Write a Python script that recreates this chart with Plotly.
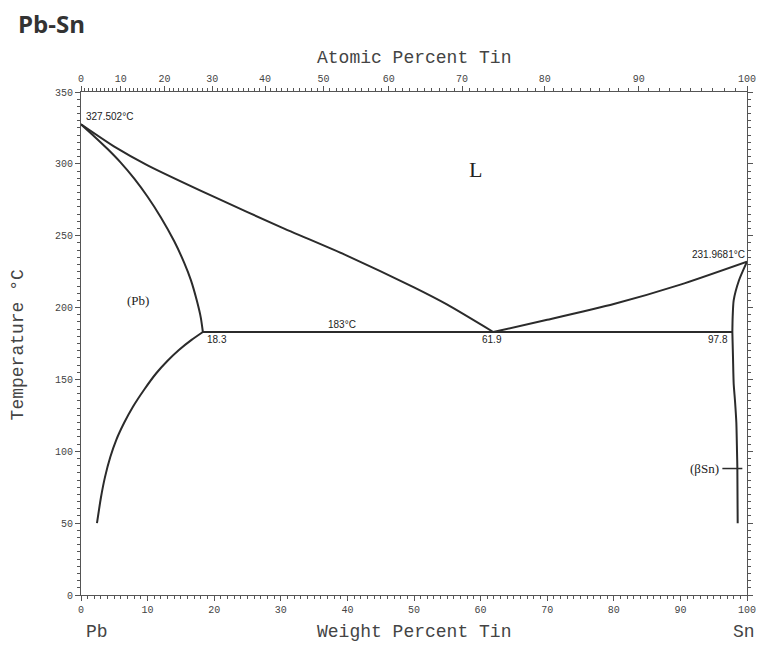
import plotly.graph_objects as go

# ---------------- data ----------------
# Pb-rich side liquidus (wt% Sn, °C)
liq_pb_x = [0, 5, 10, 20, 30, 40, 50, 55, 61.9]
liq_pb_y = [327.502, 312, 299, 277, 256, 236, 214, 202, 183]
# Pb-rich solidus
sol_pb_x = [0, 2, 4, 6, 8, 10, 12, 14, 15.5, 16.5, 17.4, 18, 18.3]
sol_pb_y = [327.502, 319.1, 310.3, 300.7, 289.7, 277.1, 262.7, 246.1, 231.1, 219.1, 204.7, 192.7, 183]
# Pb-rich solvus
solv_pb_x = [18.3, 16.6, 14.7, 13, 11.3, 9.5, 7.8, 6.5, 5.3, 4.4, 3.6, 3.0, 2.4]
solv_pb_y = [183, 177.5, 170.5, 163, 154.3, 143, 131, 120, 108, 96, 82, 68, 50]
# Sn-rich liquidus
liq_sn_x = [61.9, 70, 80, 90, 100]
liq_sn_y = [183, 191.5, 202.5, 216, 231.9681]
# Sn-rich solidus
sol_sn_x = [100, 98.8, 98.0, 97.85, 97.8]
sol_sn_y = [231.9681, 219, 205, 193.7, 183]
# Sn-rich solvus
solv_sn_x = [97.8, 97.9, 98.0, 98.2, 98.4, 98.5, 98.55, 98.6]
solv_sn_y = [183, 165, 147, 135, 120, 100, 89, 50]
# eutectic isotherm
eut_x = [18.3, 97.8]
eut_y = [183, 183]
# (βSn) leader line
lead_x = [96.3, 99.3]
lead_y = [88, 88]

# axis ticks
wt_ticks = list(range(0, 101, 10))
temp_ticks = list(range(0, 351, 50))
at_ticks = list(range(0, 101, 10))
at_minor = list(range(0, 101, 1))

M_SN, M_PB = 118.71, 207.2


def at_to_wt(a):
    if a <= 0:
        return 0.0
    if a >= 100:
        return 100.0
    return 100 * a * M_SN / (a * M_SN + (100 - a) * M_PB)


# ---------------- figure ----------------
COL = "#2b2b2b"
fig = go.Figure()
curves = [(liq_pb_x, liq_pb_y, 0.6, 2), (sol_pb_x, sol_pb_y, 0.6, 2), (solv_pb_x, solv_pb_y, 0.6, 2),
          (liq_sn_x, liq_sn_y, 0.6, 2), (sol_sn_x, sol_sn_y, 0.6, 2), (solv_sn_x, solv_sn_y, 0.6, 2),
          (eut_x, eut_y, 0, 2), (lead_x, lead_y, 0, 1.5)]
for xs, ys, sm, w in curves:
    line = dict(color=COL, width=w)
    if sm:
        line.update(shape="spline", smoothing=sm)
    fig.add_trace(go.Scatter(x=xs, y=ys, mode="lines", line=line,
                             hoverinfo="skip", showlegend=False))

# invisible trace to activate the top axis
fig.add_trace(go.Scatter(x=[0, 100], y=[0, 0], xaxis="x2", mode="lines",
                         line=dict(width=0), hoverinfo="skip", showlegend=False))

MONO = "Liberation Mono, Courier New, monospace"
SANS = "Liberation Sans Narrow, Liberation Sans, Arial, sans-serif"
SERIF = "Liberation Serif, Times New Roman, serif"
AX = "#555555"
TICKFONT = dict(family=MONO, size=10, color="#444")

fig.update_layout(
    width=760, height=638,
    margin=dict(l=73, r=18, t=84, b=51),
    paper_bgcolor="white", plot_bgcolor="white",
    xaxis=dict(range=[0, 100], tickvals=wt_ticks, ticktext=[str(v) for v in wt_ticks],
               showgrid=False, zeroline=False, showline=True, linecolor=AX, linewidth=1,
               ticks="outside", ticklen=5, tickcolor=AX, tickfont=TICKFONT,
               minor=dict(dtick=1, ticks="outside", ticklen=3, tickcolor=AX),
               mirror=False),
    xaxis2=dict(range=[0, 100], overlaying="x", side="top", anchor="y",
                tickvals=[at_to_wt(a) for a in at_ticks], ticktext=[str(a) for a in at_ticks],
                showgrid=False, zeroline=False, showline=True, linecolor=AX, linewidth=1,
                ticks="outside", ticklen=5, tickcolor=AX, tickfont=TICKFONT,
                minor=dict(tickvals=[at_to_wt(a) for a in at_minor], ticks="outside", ticklen=3, tickcolor=AX)),
    yaxis=dict(range=[0, 350], tickvals=temp_ticks, ticktext=[str(v) for v in temp_ticks],
               showgrid=False, zeroline=False, showline=True, linecolor=AX, linewidth=1,
               ticks="outside", ticklen=5, tickcolor=AX, tickfont=TICKFONT,
               minor=dict(dtick=5, ticks="outside", ticklen=3, tickcolor=AX),
               mirror="ticks"),
    showlegend=False,
)

ann = []
# titles / axis names
ann.append(dict(text="<b>Pb-Sn</b>", xref="paper", yref="paper", x=-0.097, y=1.137,
                xanchor="left", yanchor="middle", showarrow=False,
                font=dict(family="Open Sans, Noto Sans, sans-serif", size=24, color="#333")))
ann.append(dict(text="Atomic Percent Tin", xref="paper", yref="paper", x=0.5, y=1.0676,
                xanchor="center", yanchor="middle", showarrow=False,
                font=dict(family=MONO, size=18, color="#444")))
ann.append(dict(text="Weight Percent Tin", xref="paper", yref="paper", x=0.5, y=-0.0736,
                xanchor="center", yanchor="middle", showarrow=False,
                font=dict(family=MONO, size=18, color="#444")))
ann.append(dict(text="Temperature °C", xref="paper", yref="paper", x=-0.094, y=0.497,
                xanchor="center", yanchor="middle", textangle=-90, showarrow=False,
                font=dict(family=MONO, size=18, color="#444")))
ann.append(dict(text="Pb", xref="paper", yref="paper", x=0.004, y=-0.0736,
                xanchor="left", yanchor="middle", showarrow=False,
                font=dict(family=MONO, size=18, color="#444")))
ann.append(dict(text="Sn", xref="paper", yref="paper", x=1.015, y=-0.0736,
                xanchor="right", yanchor="middle", showarrow=False,
                font=dict(family=MONO, size=18, color="#444")))

# in-plot labels
small = dict(family=SANS, size=10, color="#222")
ann += [
    dict(text="327.502°C", x=0.4, y=327.5, xanchor="left", yanchor="bottom", font=small),
    dict(text="231.9681°C", x=100, y=232, xanchor="right", yanchor="bottom", font=small),
    dict(text="183°C", x=39.2, y=183, xanchor="center", yanchor="bottom", font=small),
    dict(text="18.3", x=18.6, y=183, xanchor="left", yanchor="top", font=small),
    dict(text="61.9", x=61.7, y=183, xanchor="center", yanchor="top", font=small),
    dict(text="97.8", x=97.5, y=183, xanchor="right", yanchor="top", font=small),
    dict(text="L", x=59.2, y=296, xanchor="center", yanchor="middle",
         font=dict(family=SERIF, size=22, color="#222")),
    dict(text="(Pb)", x=8.6, y=205, xanchor="center", yanchor="middle",
         font=dict(family=SERIF, size=13, color="#222")),
    dict(text="(βSn)", x=96.1, y=88, xanchor="right", yanchor="middle",
         font=dict(family=SERIF, size=13, color="#222")),
]
for a in ann[6:]:
    a.update(xref="x", yref="y", showarrow=False)
fig.update_layout(annotations=ann)

fig.write_html("out.html")
